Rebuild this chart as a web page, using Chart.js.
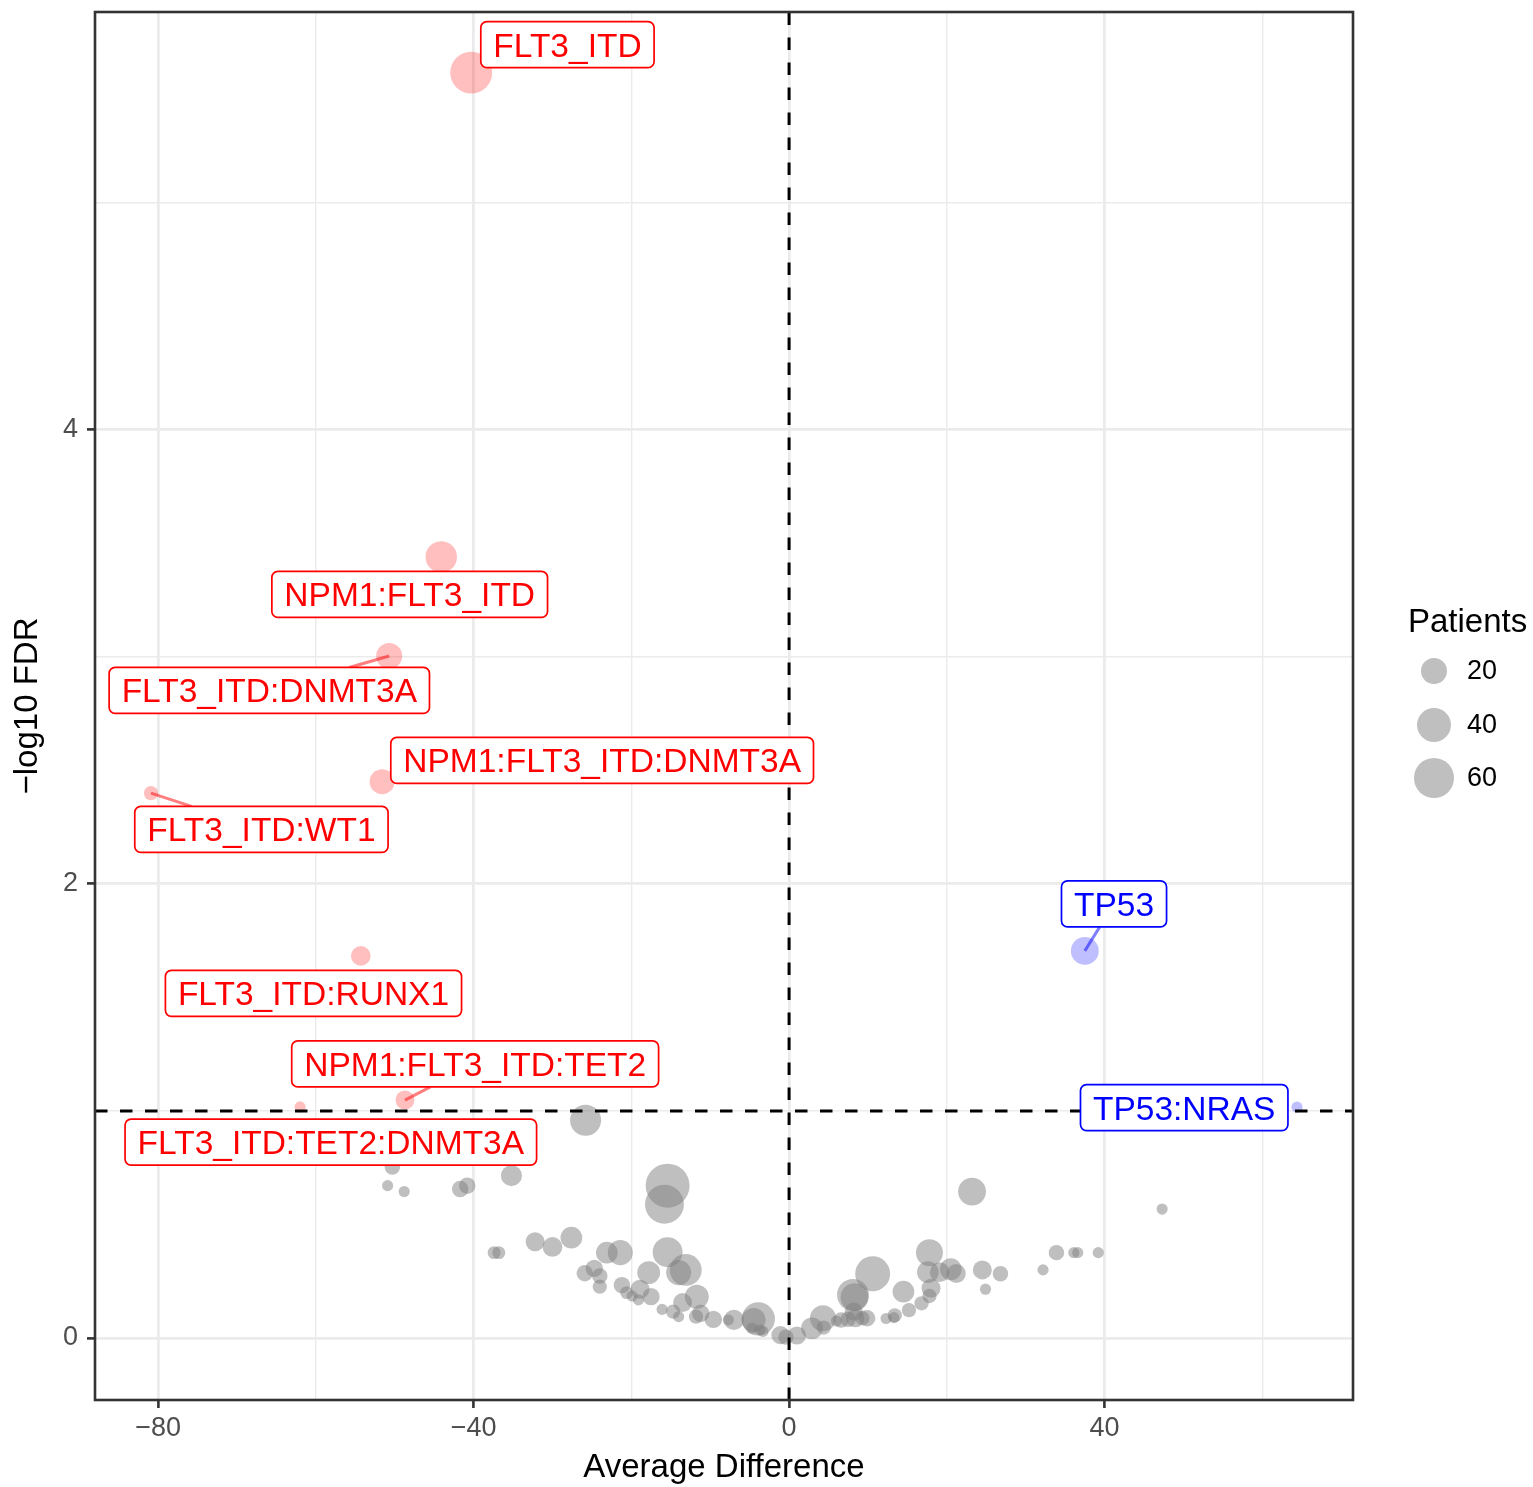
<!DOCTYPE html>
<html>
<head>
<meta charset="utf-8">
<script src="https://cdn.jsdelivr.net/npm/chart.js@4.4.1/dist/chart.umd.min.js"></script>
<style>
  html, body { margin: 0; padding: 0; background: #fff; }
  canvas { display: block; }
</style>
</head>
<body>
<canvas id="volcano" width="1533" height="1487" style="width:1533px;height:1487px"></canvas>
<script>
// axis ticks (major get a label, minor only a grid line)
const xMajor = [-80, -40, 0, 40];
const xMajorLabels = ["\u221280", "\u221240", "0", "40"];
const xMinor = [-60, -20, 20, 60];
const yMajor = [0, 2, 4];
const yMajorLabels = ["0", "2", "4"];
const yMinor = [1, 3, 5];

// FDR cut-off line (-log10 FDR = 1)
const fdrCutoff = 1;

// all tested combinations, not significant
const greyDiff = [
  -50.3, -50.9, -48.8, -41.7, -40.8, -35.2, -25.8, -15.4, -15.8, -37.4,
  -36.8, -32.2, -30.0, -27.6, -23.1, -21.4, -25.9, -24.7, -24.0, -24.0,
  -15.4, -13.1, -14.0, -17.8, -11.7, -21.2, -18.9, -17.5, -20.6, -19.9,
  -19.1, -16.1, -14.7, -13.5, -14.0, -11.8, -11.2, -9.6, -7.0, -7.7,
  -3.9, -4.5, -4.7, -3.7, -3.3, -1.1, -0.4, 1.0, 2.9, 4.3,
  4.4, 6.0, 6.6, 7.5, 8.4, 9.3, 9.9, 8.2, 8.1, 8.3,
  12.3, 13.3, 13.4, 15.2, 14.5, 10.6, 16.8, 17.8, 18.0, 17.8,
  17.6, 19.1, 20.5, 21.2, 23.2, 24.5, 26.8, 24.9, 32.2, 33.9,
  36.1, 36.6, 39.2, 47.3
];
const greyFdr = [
  0.753, 0.671, 0.645, 0.656, 0.671, 0.715, 0.959, 0.671, 0.589, 0.376,
  0.376, 0.424, 0.401, 0.442, 0.376, 0.376, 0.285, 0.307, 0.273, 0.226,
  0.378, 0.300, 0.288, 0.288, 0.182, 0.233, 0.215, 0.182, 0.200, 0.185,
  0.168, 0.126, 0.116, 0.156, 0.094, 0.094, 0.109, 0.082, 0.080, 0.080,
  0.084, 0.079, 0.043, 0.036, 0.029, 0.013, 0.004, 0.011, 0.043, 0.087,
  0.046, 0.075, 0.079, 0.083, 0.087, 0.087, 0.087, 0.116, 0.190, 0.180,
  0.086, 0.090, 0.100, 0.123, 0.204, 0.283, 0.153, 0.185, 0.219, 0.376,
  0.290, 0.290, 0.303, 0.284, 0.645, 0.300, 0.283, 0.215, 0.300, 0.376,
  0.376, 0.376, 0.376, 0.568
];
const greyPatients = [
  4, 1, 1, 5, 5, 11, 32, 75, 56, 2,
  2, 8, 9, 12, 12, 18, 5, 6, 4, 3,
  29, 34, 18, 14, 16, 5, 8, 6, 2, 1,
  1, 1, 3, 8, 1, 3, 6, 6, 10, 1,
  38, 16, 1, 1, 1, 7, 4, 7, 12, 20,
  3, 1, 4, 4, 7, 3, 5, 7, 34, 24,
  1, 1, 3, 3, 12, 43, 3, 3, 8, 22,
  12, 9, 12, 8, 24, 8, 4, 1, 1, 4,
  1, 1, 1, 1
];

// significant combinations (labelled)
const hitNames = [
  "FLT3_ITD", "NPM1:FLT3_ITD", "FLT3_ITD:DNMT3A", "NPM1:FLT3_ITD:DNMT3A",
  "FLT3_ITD:WT1", "FLT3_ITD:RUNX1", "NPM1:FLT3_ITD:TET2",
  "FLT3_ITD:TET2:DNMT3A", "TP53", "TP53:NRAS"
];
const hitDiff = [-40.3, -44.1, -50.7, -51.6, -80.9, -54.3, -48.7, -62.0, 37.5, 64.4];
const hitFdr = [5.573, 3.44, 3.004, 2.45, 2.40, 1.683, 1.048, 1.018, 1.705, 1.017];
const hitPatients = [67, 33, 20, 18, 3, 9, 8, 1, 24, 1];

// size legend
const legendTitle = "Patients";
const legendSizes = [20, 40, 60];

// where the repelled labels ended up (data coords of box centre)
const labelLayout = {
  "FLT3_ITD":             { x: -28.1, y: 5.696, segment: false },
  "NPM1:FLT3_ITD":        { x: -48.1, y: 3.275, segment: false },
  "FLT3_ITD:DNMT3A":      { x: -65.9, y: 2.852, segment: true },
  "NPM1:FLT3_ITD:DNMT3A": { x: -23.7, y: 2.544, segment: false },
  "FLT3_ITD:WT1":         { x: -66.9, y: 2.240, segment: true },
  "FLT3_ITD:RUNX1":       { x: -60.3, y: 1.518, segment: false },
  "NPM1:FLT3_ITD:TET2":   { x: -39.8, y: 1.207, segment: true },
  "FLT3_ITD:TET2:DNMT3A": { x: -58.1, y: 0.863, segment: false },
  "TP53":                 { x: 41.2,  y: 1.912, segment: true },
  "TP53:NRAS":            { x: 50.1,  y: 1.015, segment: false }
};

const FONT = '"Liberation Sans", Arial, Helvetica, sans-serif';
Chart.defaults.font.family = FONT;

// ggplot-like area scale for point size
const radiusFor = n => 2.14 * Math.sqrt(n) + 3.44;
const hitColour = (i, a) => hitDiff[i] < 0 ? `rgba(255,0,0,${a})` : `rgba(0,0,255,${a})`;

const greyPoints = greyDiff.map((d, i) => ({ x: d, y: greyFdr[i], r: radiusFor(greyPatients[i]) }));
const hitPoints = hitDiff.map((d, i) => ({ x: d, y: hitFdr[i], r: radiusFor(hitPatients[i]) }));

const isMajor = (list, v) => list.some(m => Math.abs(m - v) < 1e-9);

// no extra room for overflowing tick labels: panel edges are fixed
const noScalePadding = s => {
  s.paddingTop = 0; s.paddingBottom = 0;
  s.paddingLeft = 0; s.paddingRight = 0;
};

const overlay = {
  id: "overlay",
  afterDatasetsDraw(chart) {
    const { ctx, chartArea: a, scales: { x, y } } = chart;
    ctx.save();
    ctx.beginPath();
    ctx.rect(a.left, a.top, a.right - a.left, a.bottom - a.top);
    ctx.clip();

    // reference lines
    ctx.strokeStyle = "#000";
    ctx.lineWidth = 3;
    ctx.setLineDash([12.5, 12.5]);
    const hy = y.getPixelForValue(fdrCutoff);
    ctx.beginPath();
    ctx.moveTo(a.left, hy);
    ctx.lineTo(a.right, hy);
    ctx.stroke();
    const vx = x.getPixelForValue(0);
    ctx.beginPath();
    ctx.moveTo(vx, a.bottom);
    ctx.lineTo(vx, a.top);
    ctx.stroke();
    ctx.setLineDash([]);

    // labels
    ctx.font = "33.5px " + FONT;
    hitNames.forEach((name, i) => {
      const lay = labelLayout[name];
      const px = x.getPixelForValue(hitDiff[i]);
      const py = y.getPixelForValue(hitFdr[i]);
      const cx = x.getPixelForValue(lay.x);
      const cy = y.getPixelForValue(lay.y);
      const w = ctx.measureText(name).width + 25;
      const h = 46;

      if (lay.segment) {
        const dx = px - cx, dy = py - cy;
        const s = Math.min(dx ? (w / 2) / Math.abs(dx) : Infinity, dy ? (h / 2) / Math.abs(dy) : Infinity);
        ctx.strokeStyle = hitColour(i, 0.5);
        ctx.lineWidth = 3;
        ctx.beginPath();
        ctx.moveTo(px, py);
        ctx.lineTo(cx + s * dx, cy + s * dy);
        ctx.stroke();
      }

      ctx.beginPath();
      ctx.roundRect(cx - w / 2, cy - h / 2, w, h, 6);
      ctx.fillStyle = "#fff";
      ctx.fill();
      ctx.strokeStyle = hitColour(i, 1);
      ctx.lineWidth = 1.7;
      ctx.stroke();

      ctx.fillStyle = hitColour(i, 1);
      ctx.textAlign = "center";
      ctx.textBaseline = "alphabetic";
      ctx.fillText(name, cx, cy + 12);
    });
    ctx.restore();
  },
  afterDraw(chart) {
    const { ctx, chartArea: a } = chart;
    ctx.save();
    // panel border
    ctx.strokeStyle = "#333";
    ctx.lineWidth = 2.6;
    ctx.strokeRect(a.left, a.top, a.right - a.left, a.bottom - a.top);

    // axis titles
    ctx.fillStyle = "#000";
    ctx.font = "33px " + FONT;
    ctx.textAlign = "center";
    ctx.textBaseline = "alphabetic";
    ctx.fillText("Average Difference", (a.left + a.right) / 2, 1477);
    ctx.save();
    ctx.translate(37, (a.top + a.bottom) / 2);
    ctx.rotate(-Math.PI / 2);
    ctx.fillText("\u2212log10 FDR", 0, 0);
    ctx.restore();

    // size legend
    ctx.textAlign = "left";
    ctx.fillText(legendTitle, 1408, 632);
    const keyY = [671, 725, 778];
    ctx.font = "27px " + FONT;
    ctx.textBaseline = "middle";
    legendSizes.forEach((n, i) => {
      ctx.beginPath();
      ctx.arc(1434, keyY[i], radiusFor(n), 0, Math.PI * 2);
      ctx.fillStyle = "rgba(127,127,127,0.5)";
      ctx.fill();
      ctx.fillStyle = "#000";
      ctx.fillText(String(n), 1467, keyY[i] + 1);
    });
    ctx.restore();
  }
};

const chart = new Chart(document.getElementById("volcano"), {
  type: "bubble",
  data: {
    datasets: [
      {
        data: greyPoints,
        backgroundColor: "rgba(127,127,127,0.5)",
        borderWidth: 0
      },
      {
        data: hitPoints,
        backgroundColor: c => hitColour(c.dataIndex, 0.25),
        borderWidth: 0
      }
    ]
  },
  options: {
    responsive: false,
    animation: false,
    events: [],
    layout: { autoPadding: false, padding: { top: 12, right: 180, left: 0, bottom: 0 } },
    plugins: { legend: { display: false }, tooltip: { enabled: false } },
    scales: {
      x: {
        type: "linear",
        min: -88,
        max: 71.5,
        afterBuildTicks: s => { s.ticks = xMajor.concat(xMinor).sort((p, q) => p - q).map(v => ({ value: v })); },
        afterFit: s => { s.height = 87; noScalePadding(s); },
        border: { display: false },
        grid: {
          color: "#ebebeb",
          lineWidth: c => isMajor(xMajor, c.tick.value) ? 2.8 : 1.4,
          drawTicks: true,
          tickLength: 8,
          tickWidth: 2.6,
          tickColor: c => isMajor(xMajor, c.tick.value) ? "#333" : "rgba(0,0,0,0)"
        },
        ticks: {
          autoSkip: false,
          maxRotation: 0,
          padding: 4,
          color: "#4d4d4d",
          font: { size: 27 },
          callback: v => {
            const k = xMajor.findIndex(m => Math.abs(m - v) < 1e-9);
            return k < 0 ? "" : xMajorLabels[k];
          }
        }
      },
      y: {
        type: "linear",
        min: -0.273,
        max: 5.84,
        afterBuildTicks: s => { s.ticks = yMajor.concat(yMinor).sort((p, q) => p - q).map(v => ({ value: v })); },
        afterFit: s => { s.width = 95; noScalePadding(s); },
        border: { display: false },
        grid: {
          color: "#ebebeb",
          lineWidth: c => isMajor(yMajor, c.tick.value) ? 2.8 : 1.4,
          drawTicks: true,
          tickLength: 8,
          tickWidth: 2.6,
          tickColor: c => isMajor(yMajor, c.tick.value) ? "#333" : "rgba(0,0,0,0)"
        },
        ticks: {
          autoSkip: false,
          padding: 9,
          color: "#4d4d4d",
          font: { size: 27 },
          callback: v => {
            const k = yMajor.findIndex(m => Math.abs(m - v) < 1e-9);
            return k < 0 ? "" : yMajorLabels[k];
          }
        }
      }
    }
  },
  plugins: [overlay]
});
</script>
</body>
</html>
